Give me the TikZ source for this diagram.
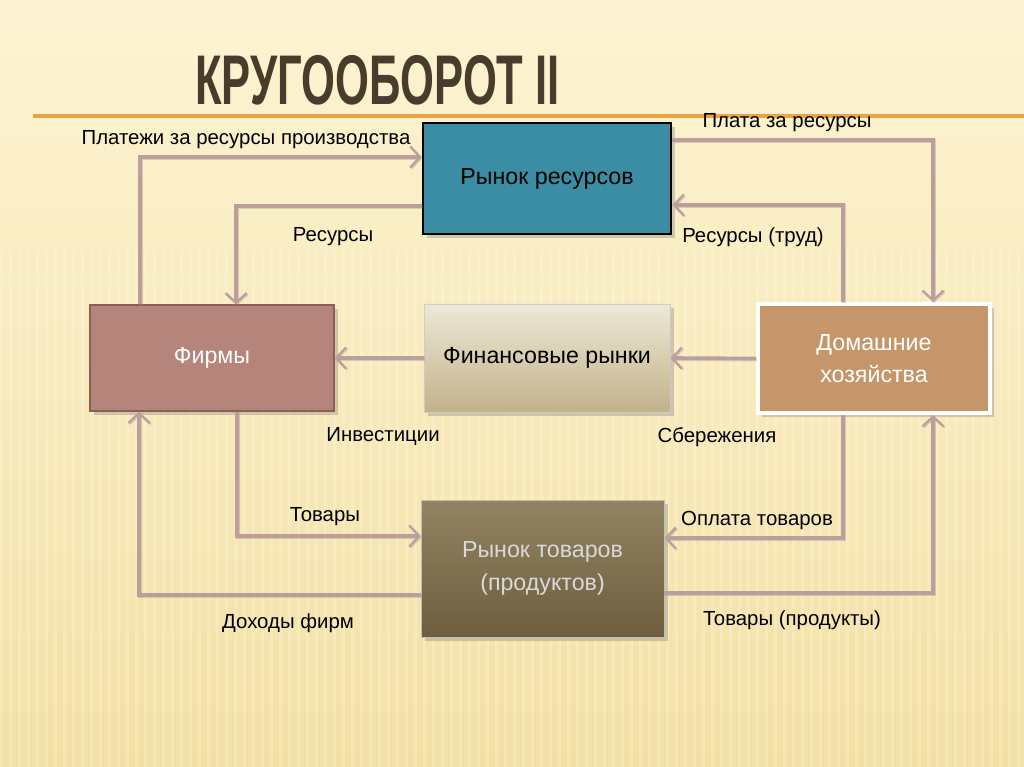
\documentclass[tikz,border=0pt]{standalone}
\usepackage{fontspec}
\setmainfont{Liberation Sans}
\usetikzlibrary{arrows.meta,shadows}

\definecolor{bgtop}{HTML}{FDF4D3}
\definecolor{bgbot}{HTML}{F3E0A4}
\definecolor{rule}{HTML}{E9A443}
\definecolor{titlec}{HTML}{4A3B2C}
\definecolor{flowc}{HTML}{BE9E9C}
\definecolor{resc}{HTML}{3A8DA2}
\definecolor{firmc}{HTML}{B5857C}
\definecolor{firmd}{HTML}{8C5E58}
\definecolor{fintop}{HTML}{EEE8D6}
\definecolor{finbot}{HTML}{C2B28A}
\definecolor{housec}{HTML}{C4966A}
\definecolor{goodtop}{HTML}{928362}
\definecolor{goodbot}{HTML}{6E5E3F}

\begin{document}
\begin{tikzpicture}[x=0.025cm, y=-0.025cm,
  box/.style = {minimum height=2.7cm, align=center, font=\fontsize{16.5}{23}\selectfont, drop shadow={opacity=0.35}},
  flow/.style = {draw=flowc, line width=2.6pt, -{Straight Barb[length=7pt,width=15pt,line width=1.6pt]},
    preaction={draw=black!45, opacity=0.35, line width=2.6pt, transform canvas={shift={(0.8pt,-0.8pt)}}}},
  lbl/.style = {font=\fontsize{14.5}{17}\selectfont, text=black}]

% background
\useasboundingbox (0,0) rectangle (1024,767);
\shade[top color=bgtop, bottom color=bgbot] (0,0) rectangle (1024,767);
\foreach \i in {0,9,...,1024}
  \fill[white, opacity=0.22] (\i,250) rectangle ++(3,517);
\draw[rule, line width=2.2pt] (33,116) -- (1024,116);

% title
\node[anchor=west, text=titlec, font=\fontsize{50}{50}\selectfont\bfseries, xscale=0.62, transform shape] (title) at (192,80) {КРУГООБОРОТ II};

% boxes
\node[box, minimum width=6.2cm, minimum height=2.775cm, fill=resc, draw=black, line width=2pt] (resmkt) at (547,178.5) {Рынок ресурсов};
\node[box, minimum width=6.1cm, minimum height=2.65cm, fill=firmc, draw=firmd, line width=0.8pt, text=white] (firms) at (212,358) {Фирмы};
\node[box, minimum width=6.15cm, top color=fintop, bottom color=finbot, draw=black!20, line width=0.6pt] (finmkt) at (547,358) {Финансовые рынки};
\node[box, minimum width=5.8cm, minimum height=2.72cm, fill=housec, draw=white, line width=3pt, text=white] (house) at (874,358.5) {Домашние\\хозяйства};
\node[box, minimum width=6.07cm, minimum height=3.42cm, top color=goodtop, bottom color=goodbot, draw=black!25, line width=0.6pt, text=white!85!black] (goodsmkt) at (542.5,568.5) {Рынок товаров\\(продуктов)};

% flows
\draw[flow] ([shift={(-72,0)}]firms.north) |- ([shift={(0,-21.5)}]resmkt.west);
\draw[flow] ([shift={(0,27.5)}]resmkt.west) -| ([shift={(24,0)}]firms.north);
\draw[flow] ([shift={(0,-38.5)}]resmkt.east) -| ([shift={(59,0)}]house.north);
\draw[flow] ([shift={(-31,0)}]house.north) |- ([shift={(0,26.5)}]resmkt.east);
\draw[flow] (finmkt.west) -- (firms.east);
\draw[flow] (house.west) -- (finmkt.east);
\draw[flow] ([shift={(25,0)}]firms.south) |- ([shift={(0,-32.5)}]goodsmkt.west);
\draw[flow] ([shift={(0,26.5)}]goodsmkt.west) -| ([shift={(-73,0)}]firms.south);
\draw[flow] ([shift={(-31,0)}]house.south) |- ([shift={(0,-30.5)}]goodsmkt.east);
\draw[flow] ([shift={(0,24.5)}]goodsmkt.east) -| ([shift={(59,0)}]house.south);

% labels
\node[lbl] (l1) at (246,140) {Платежи за ресурсы производства};
\node[lbl] (l2) at (333,237) {Ресурсы};
\node[lbl] (l3) at (787,123) {Плата за ресурсы};
\node[lbl] (l4) at (753,237) {Ресурсы (труд)};
\node[lbl] (l5) at (383,437) {Инвестиции};
\node[lbl] (l6) at (717,437) {Сбережения};
\node[lbl] (l7) at (325,517) {Товары};
\node[lbl] (l8) at (288,623) {Доходы фирм};
\node[lbl] (l9) at (757,520) {Оплата товаров};
\node[lbl] (l10) at (792,620) {Товары (продукты)};
\end{tikzpicture}
\end{document}
